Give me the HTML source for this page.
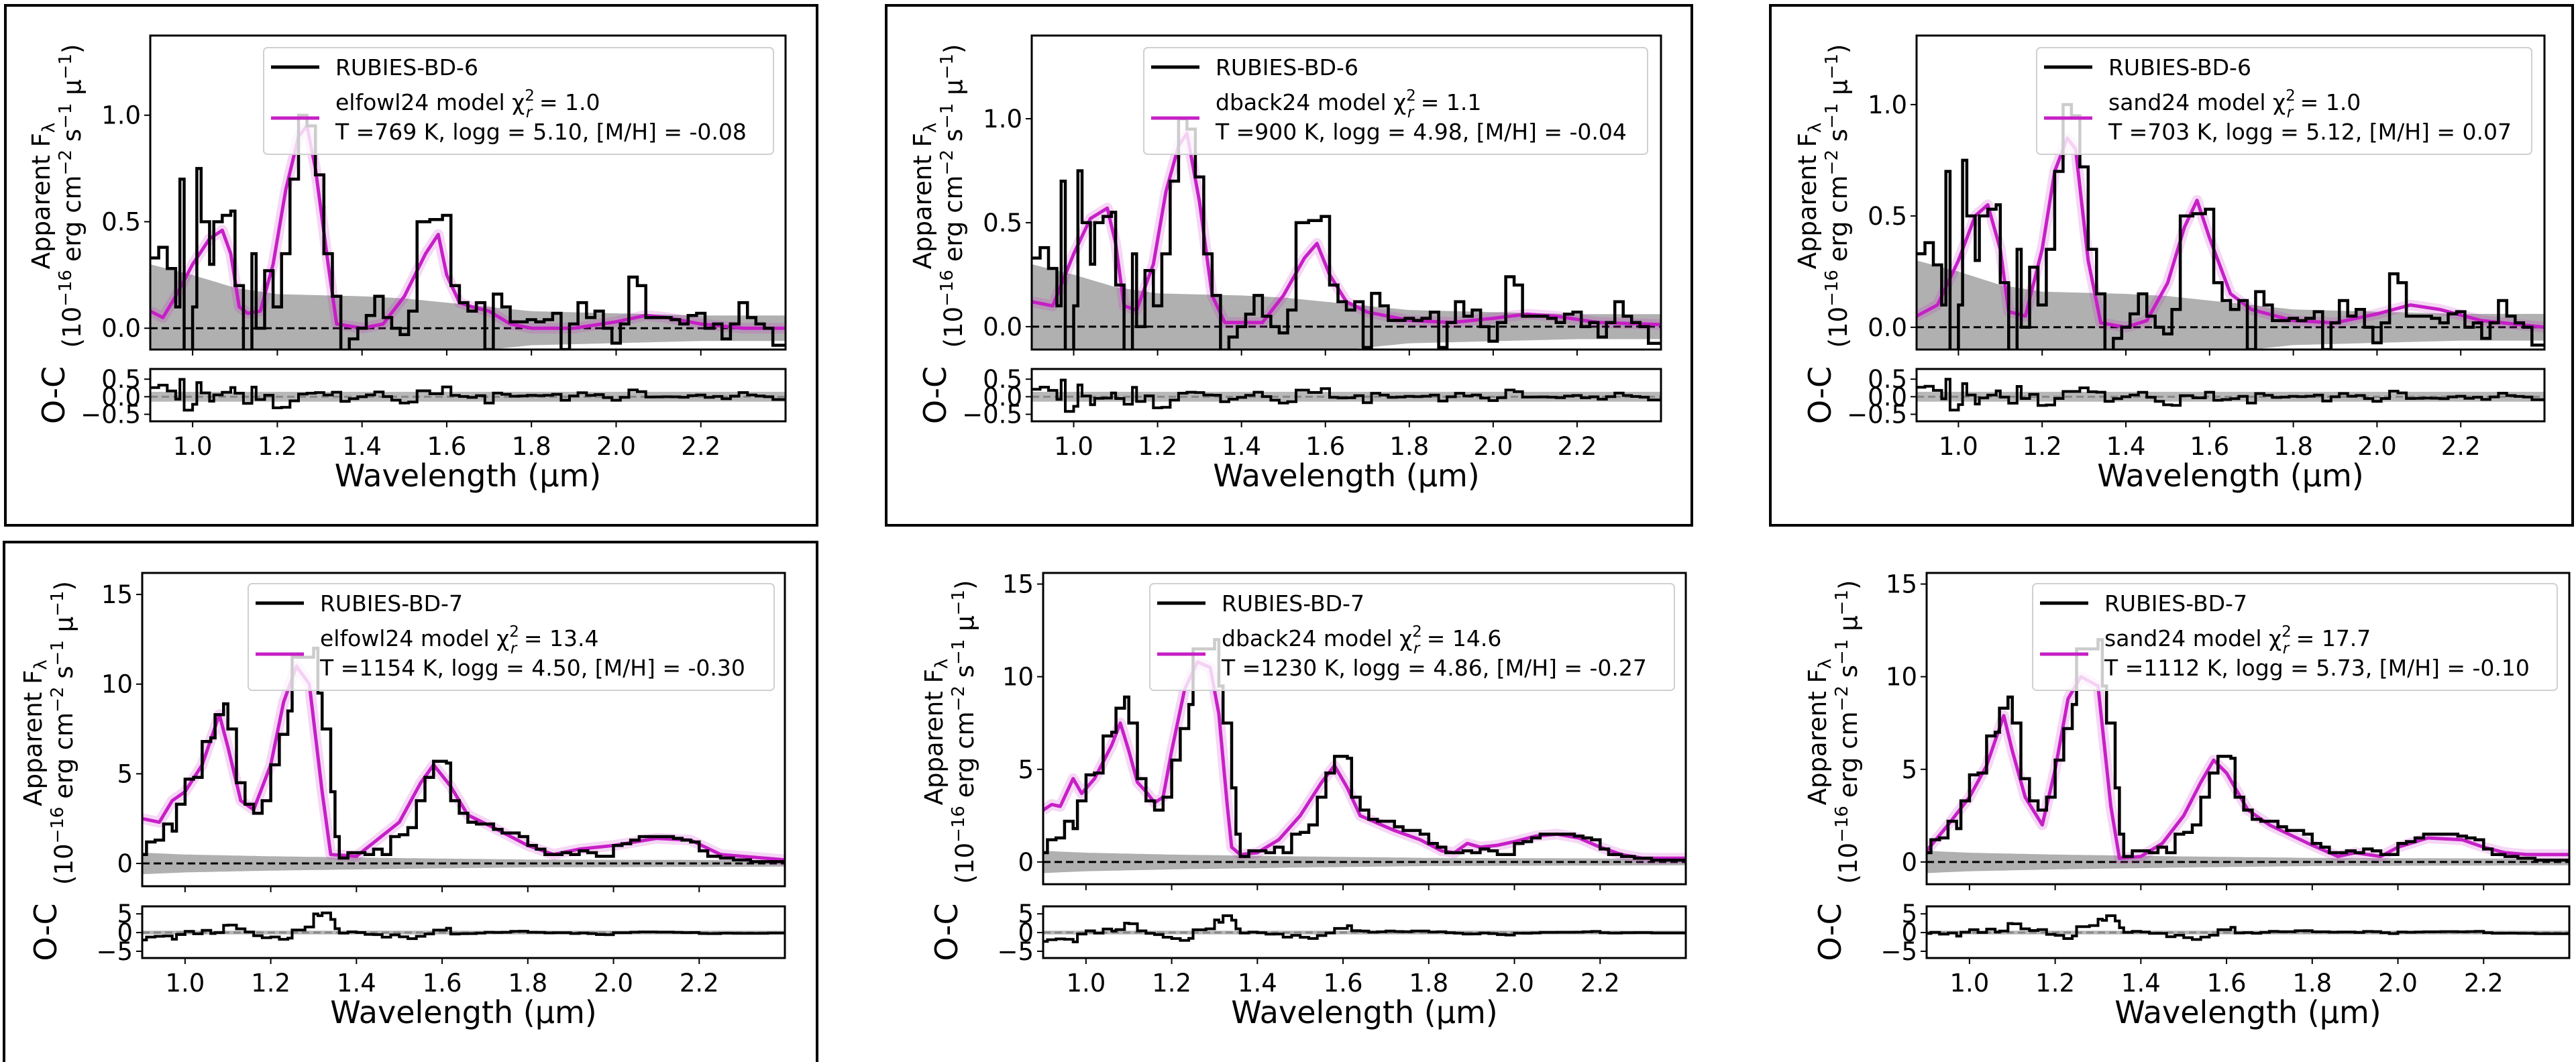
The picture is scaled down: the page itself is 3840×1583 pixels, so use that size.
<!DOCTYPE html>
<html><head><meta charset="utf-8">
<style>
html,body{margin:0;padding:0;background:#fff;}
svg{display:block;font-family:"DejaVu Sans","Liberation Sans",sans-serif;}
</style></head>
<body>
<svg id="fig" width="3840" height="1583" viewBox="0 0 3840 1583" xmlns="http://www.w3.org/2000/svg">
<rect x="0" y="0" width="3840" height="1583" fill="#fff"/>
<rect x="8" y="8" width="1210" height="775" fill="none" stroke="#000" stroke-width="4"/>
<rect x="1321" y="8" width="1201" height="775" fill="none" stroke="#000" stroke-width="4"/>
<rect x="2639" y="8" width="1196" height="775" fill="none" stroke="#000" stroke-width="4"/>
<rect x="6" y="808" width="1212" height="780" fill="none" stroke="#000" stroke-width="4"/>
</svg>
<script>
// ---- BD-6 observed spectrum (wavelength µm, flux) ----
const bd6Wave = [0.90,0.92,0.94,0.96,0.97,0.98,1.00,1.01,1.02,1.04,1.05,1.07,1.09,1.10,1.12,1.14,1.15,1.17,1.19,1.21,1.23,1.25,1.27,1.29,1.31,1.33,1.35,1.37,1.39,1.41,1.43,1.45,1.47,1.49,1.51,1.53,1.56,1.59,1.61,1.63,1.65,1.67,1.69,1.71,1.73,1.75,1.77,1.79,1.81,1.83,1.85,1.87,1.89,1.91,1.93,1.95,1.97,1.99,2.01,2.03,2.05,2.07,2.09,2.11,2.13,2.15,2.17,2.19,2.21,2.23,2.25,2.27,2.29,2.31,2.33,2.35,2.37,2.40];
const bd6Flux = [0.33,0.38,0.28,0.10,0.70,-0.12,0.10,0.75,0.50,0.30,0.50,0.53,0.55,0.20,-0.12,0.35,0.00,0.27,0.10,0.35,0.70,1.00,0.95,0.72,0.35,0.15,-0.12,-0.05,0.00,0.06,0.15,0.05,0.00,-0.03,0.08,0.50,0.51,0.53,0.20,0.12,0.08,0.12,-0.10,0.16,0.10,0.03,0.03,0.04,0.03,0.04,0.07,-0.10,0.02,0.12,0.05,0.08,0.00,-0.07,0.02,0.24,0.20,0.05,0.05,0.05,0.04,0.02,0.06,0.07,0.00,0.02,-0.05,0.02,0.12,0.05,0.02,0.00,-0.08,-0.08];
const bd6ErrWave = [0.90,1.00,1.10,1.20,1.40,1.50,1.60,1.70,1.80,2.00,2.20,2.40];
const bd6Err = [0.30,0.25,0.19,0.16,0.15,0.14,0.12,0.10,0.08,0.07,0.06,0.06];
// ---- BD-6 models ----
const elfowl6Wave = [0.90,0.93,0.96,1.00,1.04,1.07,1.09,1.11,1.13,1.16,1.19,1.22,1.25,1.27,1.29,1.32,1.34,1.40,1.45,1.50,1.55,1.58,1.60,1.63,1.66,1.70,1.75,1.80,1.90,2.00,2.07,2.12,2.20,2.30,2.40];
const elfowl6Flux = [0.08,0.05,0.15,0.30,0.42,0.46,0.35,0.10,0.07,0.08,0.30,0.65,0.90,0.95,0.75,0.30,0.02,0.00,0.02,0.15,0.35,0.44,0.25,0.12,0.10,0.08,0.02,0.00,0.00,0.03,0.06,0.05,0.02,0.00,0.00];
const dback6Wave = [0.90,0.95,1.00,1.04,1.08,1.10,1.12,1.15,1.19,1.22,1.25,1.27,1.30,1.33,1.36,1.45,1.50,1.55,1.58,1.61,1.65,1.70,1.80,1.90,2.00,2.08,2.15,2.25,2.40];
const dback6Flux = [0.12,0.10,0.35,0.52,0.57,0.40,0.10,0.08,0.30,0.65,0.87,0.93,0.60,0.15,0.02,0.02,0.15,0.33,0.40,0.25,0.12,0.07,0.03,0.02,0.04,0.06,0.05,0.02,0.01];
const sand6Wave = [0.90,0.95,1.00,1.04,1.07,1.10,1.12,1.16,1.20,1.23,1.26,1.28,1.31,1.34,1.40,1.45,1.50,1.54,1.57,1.60,1.65,1.70,1.80,1.90,2.00,2.08,2.15,2.25,2.40];
const sand6Flux = [0.05,0.10,0.30,0.50,0.55,0.35,0.07,0.05,0.35,0.70,0.85,0.80,0.30,0.02,0.00,0.03,0.20,0.45,0.57,0.40,0.15,0.08,0.03,0.02,0.06,0.10,0.08,0.03,0.00];
// ---- BD-7 observed ----
const bd7Wave = [0.90,0.91,0.93,0.95,0.97,0.98,1.00,1.02,1.04,1.06,1.07,1.09,1.10,1.12,1.14,1.16,1.18,1.20,1.22,1.24,1.25,1.28,1.30,1.31,1.32,1.34,1.35,1.36,1.38,1.40,1.42,1.44,1.46,1.48,1.50,1.52,1.54,1.56,1.58,1.61,1.62,1.64,1.66,1.68,1.70,1.72,1.74,1.76,1.78,1.80,1.82,1.84,1.86,1.88,1.90,1.92,1.94,1.96,1.98,2.00,2.02,2.04,2.06,2.10,2.14,2.16,2.18,2.20,2.22,2.25,2.28,2.32,2.36,2.40];
const bd7Flux = [0.5,1.2,1.3,2.2,1.8,3.3,4.7,4.8,6.8,7.0,8.3,8.9,7.5,4.5,3.3,2.8,3.5,5.5,7.2,8.5,11.5,11.5,12.0,9.5,7.5,4.0,1.5,0.3,0.6,0.6,0.5,0.8,0.5,1.5,1.6,2.0,3.5,4.8,5.7,5.6,3.5,2.8,2.3,2.2,2.2,1.9,1.7,1.7,1.5,1.0,0.8,0.5,0.5,0.6,0.5,0.7,0.6,0.4,0.4,1.0,1.1,1.3,1.5,1.5,1.4,1.3,1.2,0.7,0.4,0.3,0.2,0.1,0.1,0.15];
const bd7ErrWave = [0.90,1.00,1.20,1.50,1.80,2.40];
const bd7Err = [0.6,0.5,0.4,0.3,0.22,0.18];
// ---- BD-7 models ----
const elfowl7Wave = [0.90,0.94,0.97,1.00,1.04,1.08,1.10,1.13,1.16,1.20,1.23,1.26,1.29,1.32,1.34,1.40,1.50,1.55,1.58,1.62,1.66,1.72,1.80,1.86,1.92,2.00,2.10,2.18,2.25,2.40];
const elfowl7Flux = [2.5,2.3,3.5,4.0,5.5,8.3,6.5,3.5,3.0,5.5,9.0,11.0,10.0,4.0,0.5,0.4,2.3,4.5,5.5,4.3,2.7,2.0,1.0,0.5,0.8,1.0,1.4,1.3,0.5,0.2];
const dback7Wave = [0.90,0.92,0.94,0.97,0.99,1.02,1.06,1.08,1.10,1.12,1.14,1.16,1.18,1.20,1.23,1.26,1.29,1.31,1.33,1.34,1.36,1.40,1.45,1.50,1.55,1.58,1.61,1.64,1.68,1.72,1.78,1.83,1.86,1.89,1.92,1.96,2.00,2.05,2.10,2.15,2.20,2.25,2.30,2.40];
const dback7Flux = [2.8,3.1,3.0,4.5,3.7,4.5,6.3,7.5,6.0,4.3,3.8,3.2,3.5,6.0,9.3,10.8,10.5,8.0,3.0,0.8,0.4,0.5,1.2,2.5,4.3,5.2,4.0,2.5,2.1,1.7,1.2,0.6,0.5,1.0,0.8,0.9,1.1,1.4,1.5,1.3,0.8,0.4,0.2,0.2];
const sand7Wave = [0.90,0.95,1.00,1.04,1.08,1.10,1.13,1.17,1.20,1.23,1.26,1.30,1.33,1.35,1.40,1.45,1.50,1.54,1.57,1.60,1.65,1.70,1.80,1.86,1.90,1.96,2.00,2.07,2.15,2.20,2.25,2.30,2.40];
const sand7Flux = [0.6,2.0,3.5,5.2,7.9,6.0,3.5,2.0,5.0,8.8,10.0,9.5,3.0,0.2,0.3,1.0,2.5,4.3,5.5,4.8,2.8,2.0,0.9,0.3,0.5,0.3,0.8,1.3,1.2,0.8,0.5,0.4,0.4];
// ---- tick labels ----
const xTicks = [1.0,1.2,1.4,1.6,1.8,2.0,2.2];
const xTickLabels = ["1.0","1.2","1.4","1.6","1.8","2.0","2.2"];
const yTicksTop = [0.0,0.5,1.0];
const yTickLabelsTop = ["0.0","0.5","1.0"];
const yTicksBot = [0,5,10,15];
const yTickLabelsBot = ["0","5","10","15"];
const ocTicksTop = [-0.5,0.0,0.5];
const ocTickLabelsTop = ["\u22120.5","0.0","0.5"];
const ocTicksBot = [-5,0,5];
const ocTickLabelsBot = ["\u22125","0","5"];

const NS = "http://www.w3.org/2000/svg";
const fig = document.getElementById('fig');
function mk(tag, attrs, parent){
  const e = document.createElementNS(NS, tag);
  for (const k in attrs) e.setAttribute(k, attrs[k]);
  (parent||fig).appendChild(e);
  return e;
}
function interp(xs, ys, x){
  if (x <= xs[0]) return ys[0];
  for (let i=1;i<xs.length;i++){ if (x <= xs[i]) { const t=(x-xs[i-1])/(xs[i]-xs[i-1]); return ys[i-1]+t*(ys[i]-ys[i-1]); } }
  return ys[ys.length-1];
}

const panels = [
 {id:'tl', x0:224,x1:1171, my0:53,my1:521, oy0:550,oy1:628, ymin:-0.10,ymax:1.374, omin:-0.70,omax:0.79, obsW:bd6Wave,obsF:bd6Flux, errW:bd6ErrWave,err:bd6Err, modW:elfowl6Wave,modF:elfowl6Flux, top:true, name:'RUBIES-BD-6', model:'elfowl24', chi:'1.0', params:'T =769 K, logg = 5.10, [M/H] = -0.08', lx:393,lw:760, ly:71},
 {id:'tm', x0:1538,x1:2476, my0:53,my1:521, oy0:550,oy1:628, ymin:-0.11,ymax:1.40, omin:-0.70,omax:0.79, obsW:bd6Wave,obsF:bd6Flux, errW:bd6ErrWave,err:bd6Err, modW:dback6Wave,modF:dback6Flux, top:true, name:'RUBIES-BD-6', model:'dback24', chi:'1.1', params:'T =900 K, logg = 4.98, [M/H] = -0.04', lx:1705,lw:751, ly:71},
 {id:'tr', x0:2857,x1:3793, my0:53,my1:521, oy0:550,oy1:628, ymin:-0.10,ymax:1.31, omin:-0.70,omax:0.79, obsW:bd6Wave,obsF:bd6Flux, errW:bd6ErrWave,err:bd6Err, modW:sand6Wave,modF:sand6Flux, top:true, name:'RUBIES-BD-6', model:'sand24', chi:'1.0', params:'T =703 K, logg = 5.12, [M/H] = 0.07', lx:3036,lw:738, ly:71},
 {id:'bl', x0:212,x1:1170, my0:854,my1:1321, oy0:1351,oy1:1428, ymin:-1.27,ymax:16.2, omin:-6.8,omax:7.0, obsW:bd7Wave,obsF:bd7Flux, errW:bd7ErrWave,err:bd7Err, modW:elfowl7Wave,modF:elfowl7Flux, top:false, name:'RUBIES-BD-7', model:'elfowl24', chi:'13.4', params:'T =1154 K, logg = 4.50, [M/H] = -0.30', lx:370,lw:784, ly:870},
 {id:'bm', x0:1555,x1:2513, my0:854,my1:1318, oy0:1351,oy1:1428, ymin:-1.2,ymax:15.6, omin:-6.8,omax:7.0, obsW:bd7Wave,obsF:bd7Flux, errW:bd7ErrWave,err:bd7Err, modW:dback7Wave,modF:dback7Flux, top:false, name:'RUBIES-BD-7', model:'dback24', chi:'14.6', params:'T =1230 K, logg = 4.86, [M/H] = -0.27', lx:1714,lw:782, ly:870},
 {id:'br', x0:2872,x1:3830, my0:854,my1:1318, oy0:1351,oy1:1428, ymin:-1.2,ymax:15.6, omin:-6.8,omax:7.0, obsW:bd7Wave,obsF:bd7Flux, errW:bd7ErrWave,err:bd7Err, modW:sand7Wave,modF:sand7Flux, top:false, name:'RUBIES-BD-7', model:'sand24', chi:'17.7', params:'T =1112 K, logg = 5.73, [M/H] = -0.10', lx:3030,lw:782, ly:870}
];

const MAG = '#c61fc6';
panels.forEach(p => {
  const X = w => p.x0 + (w-0.9)/(2.4-0.9)*(p.x1-p.x0);
  const Y = v => p.my1 - (v-p.ymin)/(p.ymax-p.ymin)*(p.my1-p.my0);
  const OY = v => p.oy1 - (v-p.omin)/(p.omax-p.omin)*(p.oy1-p.oy0);
  const g = mk('g', {});
  
  
  const cp = mk('clipPath', {id:'c'+p.id}, g);
  mk('rect', {x:p.x0,y:p.my0,width:p.x1-p.x0,height:p.my1-p.my0}, cp);
  const cp2 = mk('clipPath', {id:'o'+p.id}, g);
  mk('rect', {x:p.x0,y:p.oy0,width:p.x1-p.x0,height:p.oy1-p.oy0}, cp2);
  const main = mk('g', {'clip-path':'url(#c'+p.id+')'}, g);
  let up='', dn='';
  for (let w=0.9; w<=2.401; w+=0.01){
    const e = interp(p.errW,p.err,w);
    up += (up?'L':'M')+X(w).toFixed(1)+','+Y(e).toFixed(1);
    dn = 'L'+X(w).toFixed(1)+','+Y(-e).toFixed(1)+dn;
  }
  const band = mk('path', {d:up+dn+'Z', fill:'#b0b0b0', stroke:'none'}, main);
  
  
  const z = mk('line', {x1:p.x0,x2:p.x1,y1:Y(0),y2:Y(0),stroke:'#000','stroke-width':3,'stroke-dasharray':'11,6'}, main);
  
  
  let md='';
  for (let i=0;i<p.modW.length;i++) md += (i?'L':'M')+X(p.modW[i]).toFixed(1)+','+Y(p.modF[i]).toFixed(1);
  const halo = mk('path', {d:md, fill:'none', stroke:MAG, 'stroke-opacity':0.18, 'stroke-width':16, 'stroke-linejoin':'round'}, main);
  
  
  const ml = mk('path', {d:md, fill:'none', stroke:MAG, 'stroke-width':5, 'stroke-linejoin':'round'}, main);
  
  
  let od='';
  for (let i=0;i<p.obsW.length;i++){
    const xa = X(p.obsW[i]), xb = i+1<p.obsW.length ? X(p.obsW[i+1]) : X(2.4);
    od += (i?'L':'M')+xa.toFixed(1)+','+Y(p.obsF[i]).toFixed(1)+'L'+xb.toFixed(1)+','+Y(p.obsF[i]).toFixed(1);
  }
  const ol = mk('path', {d:od, fill:'none', stroke:'#000', 'stroke-width':4.5}, main);
  
  
  const fr = mk('rect', {x:p.x0,y:p.my0,width:p.x1-p.x0,height:p.my1-p.my0,fill:'none',stroke:'#000','stroke-width':3}, g);
  
  
  const yt = p.top ? yTicksTop : yTicksBot, ytl = p.top ? yTickLabelsTop : yTickLabelsBot;
  yt.forEach((v,i) => {
    mk('line', {x1:p.x0-9,x2:p.x0,y1:Y(v),y2:Y(v),stroke:'#000','stroke-width':2}, g);
    const t = mk('text', {x:p.x0-14,y:Y(v)+13,'text-anchor':'end','font-size':37}, g);
    t.textContent = ytl[i];
    
    
  });
  xTicks.forEach(v => {
    mk('line', {x1:X(v),x2:X(v),y1:p.my1,y2:p.my1+9,stroke:'#000','stroke-width':2}, g);
    mk('line', {x1:X(v),x2:X(v),y1:p.oy1,y2:p.oy1+9,stroke:'#000','stroke-width':2}, g);
  });
  const oc = mk('g', {'clip-path':'url(#o'+p.id+')'}, g);
  const eb = p.top ? 0.14 : 0.5;
  const ocb = mk('rect', {x:p.x0,y:OY(eb),width:(p.x1-p.x0),height:OY(-eb)-OY(eb),fill:'#b8b8b8'}, oc);
  
  
  mk('line', {x1:p.x0,x2:p.x1,y1:OY(0),y2:OY(0),stroke:'#888','stroke-width':3,'stroke-dasharray':'11,6'}, oc);
  let rd='';
  for (let i=0;i<p.obsW.length;i++){
    const mid = p.obsW[i] + ((i+1<p.obsW.length?p.obsW[i+1]:2.4)-p.obsW[i])/2;
    const r = p.obsF[i] - interp(p.modW,p.modF,mid);
    const xa = X(p.obsW[i]), xb = i+1<p.obsW.length ? X(p.obsW[i+1]) : X(2.4);
    rd += (i?'L':'M')+xa.toFixed(1)+','+OY(r).toFixed(1)+'L'+xb.toFixed(1)+','+OY(r).toFixed(1);
  }
  const rl = mk('path', {d:rd, fill:'none', stroke:'#000', 'stroke-width':4}, oc);
  
  
  const of = mk('rect', {x:p.x0,y:p.oy0,width:p.x1-p.x0,height:p.oy1-p.oy0,fill:'none',stroke:'#000','stroke-width':3}, g);
  
  
  const ot = p.top ? ocTicksTop : ocTicksBot, otl = p.top ? ocTickLabelsTop : ocTickLabelsBot;
  ot.forEach((v,i) => {
    mk('line', {x1:p.x0-9,x2:p.x0,y1:OY(v),y2:OY(v),stroke:'#000','stroke-width':2}, g);
    const t = mk('text', {x:p.x0-14,y:OY(v)+13,'text-anchor':'end','font-size':37}, g);
    t.textContent = otl[i];
    
    
  });
  xTicks.forEach((v,i) => {
    const t = mk('text', {x:X(v),y:p.oy1+50,'text-anchor':'middle','font-size':37}, g);
    t.textContent = xTickLabels[i];
    
    
  });
  const xl = mk('text', {x:(p.x0+p.x1)/2,y:p.oy1+97,'text-anchor':'middle','font-size':46}, g);
  xl.textContent = 'Wavelength (\u00b5m)';
  
  
  const ocl = mk('text', {transform:'translate('+(p.x0-128)+','+((p.oy0+p.oy1)/2)+') rotate(-90)','text-anchor':'middle','font-size':46}, g);
  ocl.textContent = 'O-C';
  
  
  const cy = (p.my0+p.my1)/2 + 5;
  const yl1 = mk('text', {transform:'translate('+(p.x0-150)+','+cy+') rotate(-90)','text-anchor':'middle','font-size':37}, g);
  yl1.innerHTML = 'Apparent F<tspan font-size="26" dy="7">\u03bb</tspan>';
  
  
  const yl2 = mk('text', {transform:'translate('+(p.x0-104)+','+cy+') rotate(-90)','text-anchor':'middle','font-size':37}, g);
  yl2.innerHTML = '(10<tspan font-size="26" dy="-14">\u221216</tspan><tspan dy="14"> erg cm</tspan><tspan font-size="26" dy="-14">\u22122</tspan><tspan dy="14"> s</tspan><tspan font-size="26" dy="-14">\u22121</tspan><tspan dy="14"> \u00b5</tspan><tspan font-size="26" dy="-14">\u22121</tspan><tspan dy="14">)</tspan>';
  
  
  const lg = mk('g', {}, g);
  
  
  mk('rect', {x:p.lx,y:p.ly,width:p.lw,height:159,rx:6,fill:'#fff','fill-opacity':0.8,stroke:'#d0d0d0','stroke-width':2}, lg);
  const l1 = mk('line', {x1:p.lx+11,x2:p.lx+83,y1:p.ly+29,y2:p.ly+29,stroke:'#000','stroke-width':5}, lg);
  
  
  const t1 = mk('text', {x:p.lx+107,y:p.ly+41,'font-size':33}, lg);
  t1.textContent = p.name;
  
  
  const l2 = mk('line', {x1:p.lx+11,x2:p.lx+83,y1:p.ly+105,y2:p.ly+105,stroke:MAG,'stroke-width':5}, lg);
  
  
  const t2 = mk('text', {x:p.lx+107,y:p.ly+93,'font-size':33}, lg);
  t2.innerHTML = p.model+' model \u03c7<tspan font-size="23" dy="-14">2</tspan><tspan font-size="23" dx="-13" dy="25" font-style="italic">r</tspan><tspan dy="-11"> = '+p.chi+'</tspan>';
  
  
  const t3 = mk('text', {x:p.lx+107,y:p.ly+137,'font-size':33}, lg);
  t3.textContent = p.params;
  
  
});
</script>
</body></html>
